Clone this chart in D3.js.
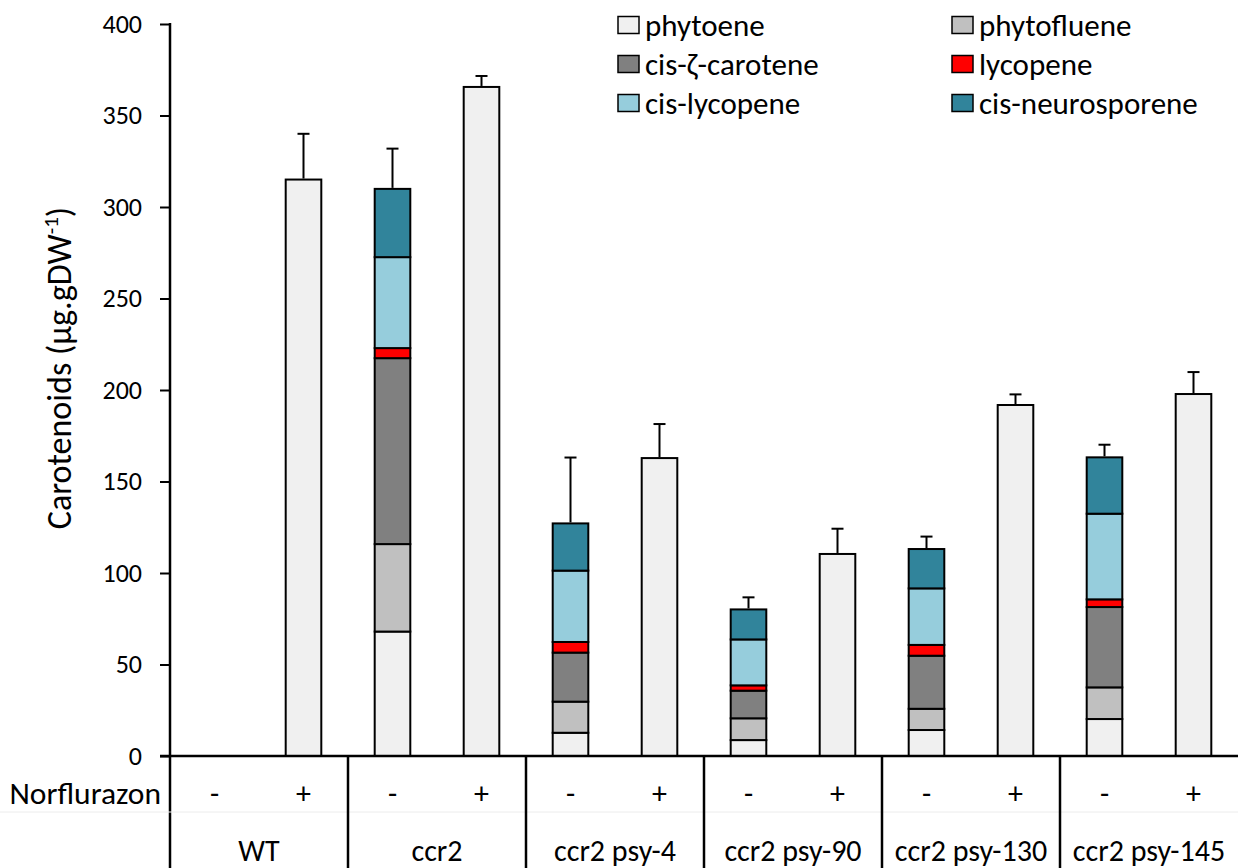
<!DOCTYPE html>
<html>
<head>
<meta charset="utf-8">
<script src="https://cdn.jsdelivr.net/npm/d3@7"></script>
<style>
  html, body { margin: 0; padding: 0; background: #fff; }
  svg text { font-family: Carlito, Calibri, Lato, "Open Sans", sans-serif; fill: #000; }
</style>
</head>
<body>
<svg id="chart" width="1238" height="868"></svg>
<script>
// Genotypes and norflurazon treatment
const groups = ["WT", "ccr2", "ccr2 psy-4", "ccr2 psy-90", "ccr2 psy-130", "ccr2 psy-145"];
const treatments = ["-", "+"];

// Carotenoid content (µg/g DW), untreated samples
const phytoeneMinus       = [0, 68.0, 12.7, 8.7, 14.2, 20.2];
const phytoflueneMinus    = [0, 47.8, 17.0, 11.9, 11.6, 17.3];
const zetaCaroteneMinus   = [0, 101.6, 26.8, 15.1, 29.0, 43.9];
const lycopeneMinus       = [0, 5.5, 5.8, 2.9, 5.9, 4.2];
const cisLycopeneMinus    = [0, 49.7, 39.0, 25.1, 30.9, 46.8];
const cisNeurosporeneMinus= [0, 37.3, 25.8, 16.4, 21.5, 30.8];
const errorMinus          = [0, 22.0, 36.0, 6.6, 6.8, 6.9];

// Norflurazon-treated samples accumulate phytoene only
const phytoenePlus = [315.0, 365.6, 162.8, 110.4, 191.8, 197.8];
const errorPlus    = [25.0, 6.0, 18.6, 13.8, 5.8, 12.0];

const compounds = ["phytoene", "phytofluene", "cis-ζ-carotene", "lycopene", "cis-lycopene", "cis-neurosporene"];
const colours = ["#f0f0f0", "#c0c0c0", "#808080", "#ff0000", "#96cddc", "#31849b"];
const yTicks = [0, 50, 100, 150, 200, 250, 300, 350, 400];

// Rows for the stack: one per bar
const rows = [];
groups.forEach((g, i) => {
  rows.push({
    group: g, treat: "-", err: errorMinus[i],
    "phytoene": phytoeneMinus[i],
    "phytofluene": phytoflueneMinus[i],
    "cis-ζ-carotene": zetaCaroteneMinus[i],
    "lycopene": lycopeneMinus[i],
    "cis-lycopene": cisLycopeneMinus[i],
    "cis-neurosporene": cisNeurosporeneMinus[i]
  });
  rows.push({
    group: g, treat: "+", err: errorPlus[i],
    "phytoene": phytoenePlus[i],
    "phytofluene": 0, "cis-ζ-carotene": 0, "lycopene": 0, "cis-lycopene": 0, "cis-neurosporene": 0
  });
});

const svg = d3.select("#chart");
const plotLeft = 170, plotRight = 1238, plotTop = 24, plotBase = 756, plotBottom = 868;

const x = d3.scaleBand().domain(groups).range([plotLeft, plotRight]).paddingInner(0).paddingOuter(0);
const xi = d3.scaleBand().domain(treatments).range([0, x.bandwidth()]).paddingInner(0.6).paddingOuter(0.3);
const y = d3.scaleLinear().domain([0, 400]).range([plotBase, plotTop]);
const colour = d3.scaleOrdinal().domain(compounds).range(colours);

const series = d3.stack().keys(compounds)(rows);

// Stacked bars
const barLayer = svg.append("g");
series.forEach(s => {
  barLayer.selectAll(null)
    .data(s.filter(d => d[1] - d[0] > 0))
    .join("rect")
    .attr("x", d => x(d.data.group) + xi(d.data.treat))
    .attr("width", xi.bandwidth())
    .attr("y", d => y(d[1]))
    .attr("height", d => y(d[0]) - y(d[1]))
    .attr("fill", colour(s.key))
    .attr("stroke", "#000")
    .attr("stroke-width", 2);
});

// Upper error bars
const totals = rows.map(r => ({ r, total: d3.sum(compounds, k => r[k]) })).filter(d => d.total > 0);
const eb = svg.append("g").attr("stroke", "#000").attr("stroke-width", 2);
totals.forEach(({ r, total }) => {
  const cx = x(r.group) + xi(r.treat) + xi.bandwidth() / 2;
  eb.append("line").attr("x1", cx).attr("x2", cx).attr("y1", y(total) - 1).attr("y2", y(total + r.err));
  eb.append("line").attr("x1", cx - 6).attr("x2", cx + 6).attr("y1", y(total + r.err)).attr("y2", y(total + r.err));
});

// Y axis
const yAxis = svg.append("g")
  .attr("transform", `translate(${plotLeft},0)`)
  .call(d3.axisLeft(y).tickValues(yTicks).tickSize(10).tickSizeOuter(0).tickPadding(18));
yAxis.select(".domain").remove();
yAxis.selectAll(".tick line").attr("stroke", "#000").attr("stroke-width", 2);
yAxis.selectAll(".tick text").attr("font-size", 26).attr("font-family", null);

svg.append("line").attr("x1", plotLeft).attr("x2", plotLeft).attr("y1", plotTop - 1).attr("y2", plotBottom)
  .attr("stroke", "#000").attr("stroke-width", 2.5);

// Category table below the plot
svg.append("line").attr("x1", plotLeft - 10).attr("x2", plotRight).attr("y1", plotBase).attr("y2", plotBase)
  .attr("stroke", "#000").attr("stroke-width", 2.5);
svg.append("line").attr("x1", 0).attr("x2", plotRight).attr("y1", 812).attr("y2", 812)
  .attr("stroke", "#ececec").attr("stroke-width", 1);
groups.slice(1).forEach(gr => {
  svg.append("line").attr("x1", x(gr)).attr("x2", x(gr)).attr("y1", plotBase).attr("y2", plotBottom)
    .attr("stroke", "#000").attr("stroke-width", 2.5);
});

svg.append("text").attr("x", 161).attr("y", 793).attr("text-anchor", "end")
  .attr("dominant-baseline", "central").attr("font-size", 31.5).text("Norflurazon");

groups.forEach(gr => {
  treatments.forEach(t => {
    svg.append("text")
      .attr("x", x(gr) + xi(t) + xi.bandwidth() / 2)
      .attr("y", 793).attr("text-anchor", "middle").attr("dominant-baseline", "central")
      .attr("font-size", 30).text(t);
  });
  svg.append("text")
    .attr("x", x(gr) + x.bandwidth() / 2)
    .attr("y", 850).attr("text-anchor", "middle").attr("dominant-baseline", "central")
    .attr("font-size", 30).text(gr);
});

// Y axis title
const yt = svg.append("text")
  .attr("transform", "translate(71,368) rotate(-90)")
  .attr("text-anchor", "middle").attr("font-size", 34);
yt.append("tspan").text("Carotenoids (µg.gDW");
yt.append("tspan").attr("font-size", 21).attr("dy", -13).text("-1");
yt.append("tspan").attr("dy", 13).text(")");

// Legend: two columns, three rows
const legendCols = [618, 952];
const legendRows = [25, 64, 103];
const legend = svg.append("g");
compounds.forEach((c, i) => {
  const lx = legendCols[i % 2], ly = legendRows[Math.floor(i / 2)];
  legend.append("rect").attr("x", lx).attr("y", ly - 8.5).attr("width", 21).attr("height", 17)
    .attr("fill", colour(c)).attr("stroke", "#000").attr("stroke-width", 1.5);
  legend.append("text").attr("x", lx + 27).attr("y", ly).attr("dominant-baseline", "central")
    .attr("font-size", 31).text(c);
});
</script>
</body>
</html>
